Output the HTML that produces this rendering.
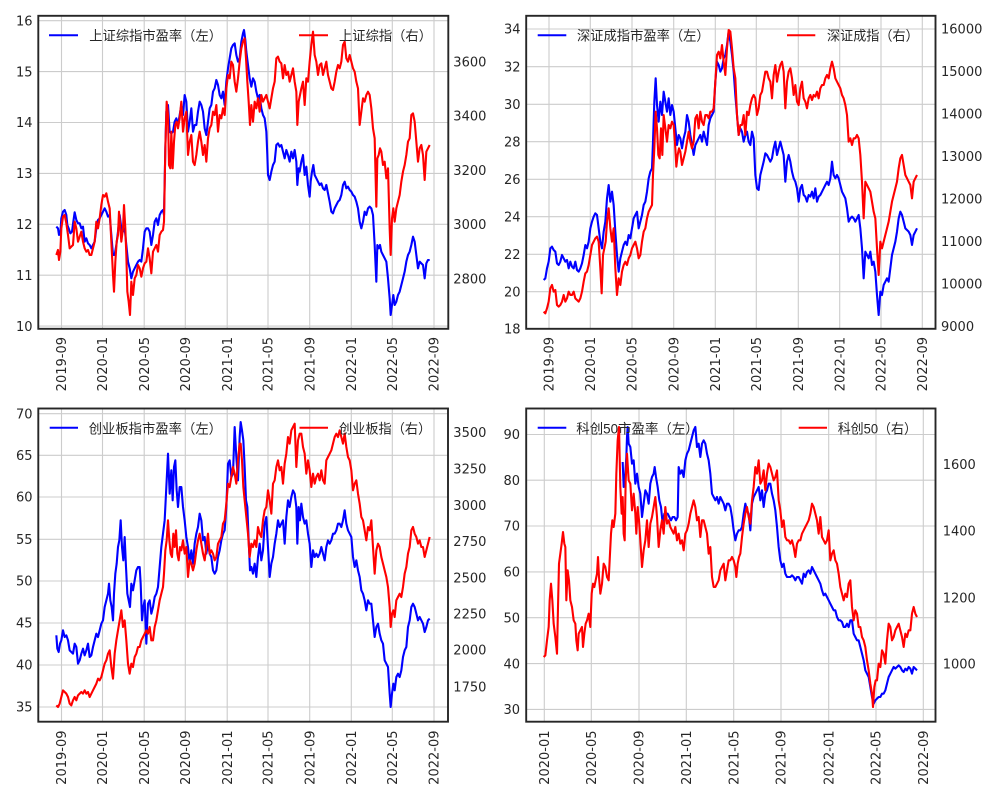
<!DOCTYPE html>
<html><head><meta charset="utf-8">
<style>
html,body{margin:0;padding:0;background:#fff;}
svg{display:block;}
.tk{font-family:"DejaVu Sans","Liberation Sans",sans-serif;font-size:13px;fill:#262626;}
.lg{font-family:"Liberation Sans","Noto Sans CJK SC",sans-serif;font-size:13.5px;fill:#262626;}
.grid line{stroke:#cccccc;stroke-width:1.1;}
.b{fill:none;stroke:#0000ff;stroke-width:2.1;stroke-linejoin:round;}
.r{fill:none;stroke:#ff0000;stroke-width:2.1;stroke-linejoin:round;}
.sp{fill:none;stroke:#262626;stroke-width:1.9;}
</style></head>
<body>
<svg width="1000" height="800" viewBox="0 0 1000 800" xmlns="http://www.w3.org/2000/svg">
<rect width="1000" height="800" fill="#fff"/>

<!-- ================= PANEL 1 ================= -->
<g class="grid">
<line x1="61.5" y1="15.8" x2="61.5" y2="328.8"/><line x1="102.5" y1="15.8" x2="102.5" y2="328.8"/><line x1="144.2" y1="15.8" x2="144.2" y2="328.8"/><line x1="185.3" y1="15.8" x2="185.3" y2="328.8"/><line x1="227.2" y1="15.8" x2="227.2" y2="328.8"/><line x1="268" y1="15.8" x2="268" y2="328.8"/><line x1="309.7" y1="15.8" x2="309.7" y2="328.8"/><line x1="351.3" y1="15.8" x2="351.3" y2="328.8"/><line x1="392.3" y1="15.8" x2="392.3" y2="328.8"/><line x1="434" y1="15.8" x2="434" y2="328.8"/>
<line x1="38.3" y1="20.7" x2="448.3" y2="20.7"/><line x1="38.3" y1="71.6" x2="448.3" y2="71.6"/><line x1="38.3" y1="122.5" x2="448.3" y2="122.5"/><line x1="38.3" y1="173.4" x2="448.3" y2="173.4"/><line x1="38.3" y1="224.3" x2="448.3" y2="224.3"/><line x1="38.3" y1="275.2" x2="448.3" y2="275.2"/><line x1="38.3" y1="326.1" x2="448.3" y2="326.1"/>
</g>
<g transform="translate(38,15) scale(0.333333)">
<polyline class="b" vector-effect="non-scaling-stroke" points="55,635 60,640 63,660 67,655 70,610 75,590 80,585 85,600 88,630 92,640 97,655 102,650 106,620 110,592 115,615 120,625 125,625 130,640 135,635 140,680 145,670 150,685 155,690 160,700 165,690 170,680 175,640 180,615 185,610 190,600 195,590 200,580 205,590 210,605 215,600 220,660 225,720 230,720 235,690 240,650 245,600 250,640 255,650 260,640 265,690 270,740 275,760 280,790 285,770 290,760 295,750 300,740 305,735 310,740 315,700 320,650 325,640 330,640 335,650 340,690 345,660 350,620 355,610 360,630 365,600 370,590 375,585 378,600 382,400 385,290 390,270 395,350 400,355 405,350 410,320 415,310 420,330 425,300 430,270 435,300 440,240 445,260 450,350 455,320 460,280 465,350 470,330 475,330 480,290 485,260 490,270 495,290 500,340 505,360 510,320 515,280 520,270 525,230 530,220 535,195 540,210 545,240 550,250 555,230 560,270 565,200 570,160 575,130 580,100 585,90 590,85 595,120 600,140 605,130 610,80 615,55 618,45 622,75 625,110 630,150 635,190 640,215 645,190 650,200 655,230 660,250 665,240 670,280 675,300 680,310 685,350 688,420 690,480 695,495 700,470 705,450 710,440 715,390 720,385 725,395 730,390 735,410 740,430 745,405 750,420 755,440 760,410 765,430 770,405 775,440 778,510 782,460 785,470 790,440 795,420 800,480 805,455 810,510 815,545 818,500 822,470 826,450 830,480 835,490 840,500 845,510 850,505 855,520 860,525 865,510 870,535 875,560 880,590 885,595 890,580 895,570 900,560 905,555 910,540 915,510 920,500 925,520 930,515 935,525 940,530 945,540 950,545 955,560 960,580 965,620 970,640 975,620 980,590 985,600 990,580 995,575 1000,580 1005,600 1010,690 1015,800 1018,690 1022,700 1026,690 1030,710 1035,720 1040,730 1045,740 1050,790 1055,850 1058,900 1062,870 1066,840 1070,870 1075,860 1080,840 1085,830 1090,810 1095,790 1100,770 1105,740 1110,720 1115,710 1120,690 1125,665 1130,680 1135,720 1140,760 1145,740 1150,745 1155,750 1160,790 1165,745 1170,735 1175,735"/>
</g>
<line x1="49" y1="35.2" x2="78" y2="35.2" stroke="#0000ff" stroke-width="2"/>
<text class="lg" x="89.3" y="40.5" textLength="132.7" lengthAdjust="spacingAndGlyphs">上证综指市盈率（左）</text>
<g transform="translate(38,15) scale(0.333333)">
<polyline class="r" vector-effect="non-scaling-stroke" points="55,720 60,705 63,735 67,710 70,640 75,605 80,600 85,625 90,660 95,700 100,695 105,690 110,620 115,640 120,680 125,665 130,650 135,680 140,700 145,710 150,705 155,720 160,720 165,700 170,680 175,620 180,640 185,610 190,570 195,540 200,545 205,535 210,560 215,580 220,680 225,780 228,830 232,740 236,680 240,660 243,590 247,640 250,680 255,640 258,570 262,640 265,720 268,830 272,860 276,900 280,800 285,840 290,790 295,780 300,750 305,760 310,785 315,760 320,745 325,740 330,700 335,730 340,775 345,710 350,700 355,690 360,710 365,660 370,650 375,645 378,620 382,400 386,260 390,300 393,450 397,460 400,350 404,460 408,380 412,330 416,320 420,340 425,310 430,260 435,350 440,310 445,290 450,420 455,380 460,360 465,440 470,450 475,420 480,380 485,350 490,380 495,420 500,390 505,440 510,370 515,340 520,330 525,290 530,300 535,270 540,350 545,300 550,310 555,280 560,300 565,220 570,180 575,190 580,140 585,150 590,200 595,230 600,190 605,140 610,100 615,80 620,70 624,130 628,200 632,260 636,330 640,270 645,320 650,260 655,280 660,250 665,290 670,240 675,260 680,250 685,240 690,260 695,280 700,250 705,220 710,200 715,130 720,125 725,140 730,145 735,190 740,150 745,180 750,170 755,200 760,180 765,160 770,200 775,230 778,330 782,260 786,240 790,220 795,200 800,270 805,190 810,200 815,140 820,90 825,50 830,120 835,140 840,180 845,150 850,145 855,180 860,160 865,140 870,180 875,200 880,220 885,225 890,200 895,170 900,150 905,160 910,140 915,90 920,80 925,130 930,140 935,120 940,140 945,160 950,170 955,200 960,220 965,330 970,290 975,250 980,260 985,240 990,230 995,240 1000,280 1005,340 1010,370 1015,575 1018,430 1022,420 1026,400 1030,410 1035,450 1040,440 1045,490 1050,460 1055,640 1058,720 1062,610 1066,580 1070,620 1075,580 1080,560 1085,540 1090,500 1095,470 1100,450 1105,420 1110,380 1115,370 1120,300 1125,295 1130,320 1135,380 1140,440 1145,400 1150,390 1155,420 1160,495 1165,410 1170,400 1175,390"/>
</g>
<line x1="299" y1="35.2" x2="328" y2="35.2" stroke="#ff0000" stroke-width="2"/>
<text class="lg" x="339" y="40.5" textLength="93" lengthAdjust="spacingAndGlyphs">上证综指（右）</text>
<rect class="sp" x="38.3" y="15.8" width="410" height="313"/>
<g class="tk" text-anchor="end">
<text x="32.5" y="25.4">16</text><text x="32.5" y="76.3">15</text><text x="32.5" y="127.2">14</text><text x="32.5" y="178.1">13</text><text x="32.5" y="229">12</text><text x="32.5" y="279.9">11</text><text x="32.5" y="330.8">10</text>
</g>
<g class="tk">
<text x="453.3" y="66.4">3600</text><text x="453.3" y="120.7">3400</text><text x="453.3" y="174.9">3200</text><text x="453.3" y="229.1">3000</text><text x="453.3" y="283.3">2800</text>
</g>
<g class="tk" text-anchor="end">
<text transform="translate(66.2,337) rotate(-90)">2019-09</text>
<text transform="translate(107.2,337) rotate(-90)">2020-01</text>
<text transform="translate(148.9,337) rotate(-90)">2020-05</text>
<text transform="translate(190,337) rotate(-90)">2020-09</text>
<text transform="translate(231.9,337) rotate(-90)">2021-01</text>
<text transform="translate(272.7,337) rotate(-90)">2021-05</text>
<text transform="translate(314.4,337) rotate(-90)">2021-09</text>
<text transform="translate(356,337) rotate(-90)">2022-01</text>
<text transform="translate(397,337) rotate(-90)">2022-05</text>
<text transform="translate(438.7,337) rotate(-90)">2022-09</text>
</g>

<!-- ================= PANEL 2 ================= -->
<g class="grid">
<line x1="549" y1="15.8" x2="549" y2="328.8"/><line x1="590.3" y1="15.8" x2="590.3" y2="328.8"/><line x1="632" y1="15.8" x2="632" y2="328.8"/><line x1="673.7" y1="15.8" x2="673.7" y2="328.8"/><line x1="715.3" y1="15.8" x2="715.3" y2="328.8"/><line x1="756.3" y1="15.8" x2="756.3" y2="328.8"/><line x1="798.3" y1="15.8" x2="798.3" y2="328.8"/><line x1="839.7" y1="15.8" x2="839.7" y2="328.8"/><line x1="881" y1="15.8" x2="881" y2="328.8"/><line x1="922.3" y1="15.8" x2="922.3" y2="328.8"/>
<line x1="526.2" y1="29" x2="935.5" y2="29"/><line x1="526.2" y1="66.7" x2="935.5" y2="66.7"/><line x1="526.2" y1="104.3" x2="935.5" y2="104.3"/><line x1="526.2" y1="141.7" x2="935.5" y2="141.7"/><line x1="526.2" y1="179.3" x2="935.5" y2="179.3"/><line x1="526.2" y1="216.7" x2="935.5" y2="216.7"/><line x1="526.2" y1="254.3" x2="935.5" y2="254.3"/><line x1="526.2" y1="291.7" x2="935.5" y2="291.7"/>
</g>
<g transform="translate(527,15) scale(0.333333)">
<polyline class="b" vector-effect="non-scaling-stroke" points="50,795 55,790 60,760 65,740 70,700 75,695 80,705 85,710 90,745 95,750 100,740 105,720 110,730 115,740 120,735 125,760 130,740 135,755 140,760 145,740 150,765 155,770 160,760 165,745 170,720 175,690 180,700 185,680 190,640 195,620 200,605 205,595 210,600 215,640 220,680 225,700 230,650 235,620 240,550 245,510 250,560 255,530 260,570 265,650 270,720 275,770 280,730 285,710 290,690 295,680 300,690 305,660 310,670 315,640 320,610 325,600 330,590 335,640 340,620 345,600 350,570 355,560 360,530 365,490 370,470 375,460 378,380 382,260 386,190 390,270 395,320 400,260 405,300 410,230 415,260 420,290 425,250 430,300 435,270 440,290 445,340 450,390 455,360 460,370 465,400 470,370 475,350 480,300 485,320 490,360 495,390 500,420 505,390 510,380 515,370 520,360 525,380 530,350 535,370 540,390 545,330 550,310 555,300 560,290 565,200 570,140 575,150 580,170 585,160 590,130 595,120 600,90 605,50 610,80 615,120 620,170 625,240 630,300 635,360 640,340 645,350 650,380 655,360 660,350 665,380 670,390 675,350 680,370 685,480 690,520 695,525 700,480 705,460 710,440 715,415 720,420 725,430 730,440 735,430 740,400 745,380 750,420 755,400 760,380 765,400 770,420 775,500 780,440 785,420 790,440 795,470 800,490 805,500 810,520 815,560 820,520 825,510 830,540 835,545 840,560 845,540 850,545 855,530 860,550 865,520 870,560 875,545 880,540 885,530 890,520 895,510 900,500 905,510 910,490 915,440 920,480 925,490 930,480 935,490 940,510 945,530 950,540 955,550 960,580 965,620 970,610 975,605 980,610 985,620 990,610 995,600 1000,640 1005,700 1010,790 1015,710 1020,720 1025,730 1030,710 1035,750 1040,740 1045,770 1050,840 1055,900 1060,830 1065,840 1070,810 1075,800 1080,790 1085,800 1090,760 1095,720 1100,700 1105,680 1110,650 1115,610 1120,590 1125,600 1130,620 1135,640 1140,645 1145,650 1150,660 1155,690 1160,660 1165,650 1170,640"/>
</g>
<line x1="537.7" y1="35.2" x2="566.3" y2="35.2" stroke="#0000ff" stroke-width="2"/>
<text class="lg" x="577" y="40.5" textLength="132.7" lengthAdjust="spacingAndGlyphs">深证成指市盈率（左）</text>
<g transform="translate(527,15) scale(0.333333)">
<polyline class="r" vector-effect="non-scaling-stroke" points="50,890 55,895 60,880 65,860 70,820 75,810 80,830 85,825 90,870 95,875 100,870 105,860 110,840 115,860 120,850 125,830 130,840 135,840 140,830 145,850 150,855 155,860 160,850 165,830 170,800 175,775 180,770 185,750 190,720 195,690 200,680 205,670 210,665 215,680 220,760 224,835 228,720 232,700 236,680 240,620 245,580 250,640 255,680 260,640 265,760 270,840 275,790 280,810 285,770 290,750 295,740 300,750 305,730 310,720 315,700 320,690 325,680 330,700 335,730 340,720 345,680 350,650 355,640 360,610 365,590 370,580 375,570 378,480 382,400 386,290 390,340 394,420 398,430 402,340 406,420 410,300 415,340 420,380 425,330 430,340 435,320 440,330 445,400 448,455 452,420 456,400 460,410 465,450 470,430 475,410 480,380 485,350 490,380 495,400 500,380 505,310 510,300 515,340 520,290 525,320 530,330 535,300 540,300 545,310 550,290 555,290 560,280 565,200 570,120 575,110 580,130 585,90 590,140 595,180 600,100 605,45 610,50 615,100 620,160 625,190 630,300 635,360 640,330 645,330 650,300 655,360 660,290 665,300 670,270 675,250 680,240 685,250 690,300 695,280 700,240 705,230 710,200 715,170 720,170 725,190 730,200 735,250 740,180 745,150 750,200 755,170 760,150 765,140 770,170 775,280 780,200 785,170 790,160 795,190 800,240 805,210 810,260 815,270 820,220 825,200 830,250 835,260 840,280 845,250 850,240 855,255 860,240 865,245 870,230 875,250 880,220 885,210 890,210 895,190 900,180 905,190 910,160 915,140 920,160 925,190 930,200 935,210 940,220 945,240 950,250 955,270 960,300 965,380 970,370 975,390 980,370 985,370 990,360 995,370 1000,420 1005,500 1010,610 1015,500 1020,510 1025,520 1030,530 1035,560 1040,590 1045,610 1050,700 1055,780 1060,680 1065,700 1070,680 1075,660 1080,640 1085,620 1090,590 1095,560 1100,540 1105,520 1110,500 1115,460 1120,430 1125,420 1130,450 1135,480 1140,490 1145,500 1150,510 1155,550 1160,500 1165,490 1170,480"/>
</g>
<line x1="787" y1="35.2" x2="815.3" y2="35.2" stroke="#ff0000" stroke-width="2"/>
<text class="lg" x="827" y="40.5" textLength="91.7" lengthAdjust="spacingAndGlyphs">深证成指（右）</text>
<rect class="sp" x="526.2" y="15.8" width="409.3" height="313"/>
<g class="tk" text-anchor="end">
<text x="520.5" y="33.7">34</text><text x="520.5" y="71.4">32</text><text x="520.5" y="109">30</text><text x="520.5" y="146.4">28</text><text x="520.5" y="184">26</text><text x="520.5" y="221.4">24</text><text x="520.5" y="259">22</text><text x="520.5" y="296.4">20</text><text x="520.5" y="333.7">18</text>
</g>
<g class="tk">
<text x="941" y="33.7">16000</text><text x="941" y="76.2">15000</text><text x="941" y="118.7">14000</text><text x="941" y="161.2">13000</text><text x="941" y="203.7">12000</text><text x="941" y="246.2">11000</text><text x="941" y="288.7">10000</text><text x="941" y="331.2">9000</text>
</g>
<g class="tk" text-anchor="end">
<text transform="translate(553.7,337) rotate(-90)">2019-09</text>
<text transform="translate(595,337) rotate(-90)">2020-01</text>
<text transform="translate(636.7,337) rotate(-90)">2020-05</text>
<text transform="translate(678.4,337) rotate(-90)">2020-09</text>
<text transform="translate(720,337) rotate(-90)">2021-01</text>
<text transform="translate(761,337) rotate(-90)">2021-05</text>
<text transform="translate(803,337) rotate(-90)">2021-09</text>
<text transform="translate(844.4,337) rotate(-90)">2022-01</text>
<text transform="translate(885.7,337) rotate(-90)">2022-05</text>
<text transform="translate(927,337) rotate(-90)">2022-09</text>
</g>

<!-- ================= PANEL 3 ================= -->
<g class="grid">
<line x1="61.5" y1="408.5" x2="61.5" y2="721.7"/><line x1="102.5" y1="408.5" x2="102.5" y2="721.7"/><line x1="144.2" y1="408.5" x2="144.2" y2="721.7"/><line x1="185.3" y1="408.5" x2="185.3" y2="721.7"/><line x1="227.2" y1="408.5" x2="227.2" y2="721.7"/><line x1="268" y1="408.5" x2="268" y2="721.7"/><line x1="309.7" y1="408.5" x2="309.7" y2="721.7"/><line x1="351.3" y1="408.5" x2="351.3" y2="721.7"/><line x1="392.3" y1="408.5" x2="392.3" y2="721.7"/><line x1="434" y1="408.5" x2="434" y2="721.7"/>
<line x1="38.3" y1="413.7" x2="448" y2="413.7"/><line x1="38.3" y1="455.3" x2="448" y2="455.3"/><line x1="38.3" y1="497" x2="448" y2="497"/><line x1="38.3" y1="539.3" x2="448" y2="539.3"/><line x1="38.3" y1="581" x2="448" y2="581"/><line x1="38.3" y1="623" x2="448" y2="623"/><line x1="38.3" y1="665" x2="448" y2="665"/><line x1="38.3" y1="707" x2="448" y2="707"/>
</g>
<g transform="translate(38,407) scale(0.333333)">
<polyline class="b" vector-effect="non-scaling-stroke" points="55,685 58,725 62,735 66,710 70,700 75,670 80,690 85,685 90,700 95,730 100,735 105,740 110,710 115,720 120,770 125,760 130,740 135,725 140,745 145,730 150,710 155,750 160,745 165,720 170,700 175,680 180,690 185,670 190,650 195,640 200,600 205,580 210,560 213,530 217,580 221,600 225,640 228,560 232,500 236,470 240,420 244,400 248,340 252,420 256,460 260,390 264,480 268,560 272,580 276,600 280,530 285,550 290,520 295,490 300,480 305,480 308,530 312,640 316,600 320,580 325,710 330,590 335,580 340,620 345,600 350,570 355,560 360,540 365,480 370,420 375,380 380,340 385,240 390,140 395,260 400,190 404,280 408,180 412,160 416,250 420,300 425,240 430,240 435,300 440,340 445,390 450,420 455,470 460,430 465,470 470,410 475,380 480,360 485,320 490,340 495,400 500,390 505,440 510,410 515,440 520,450 525,490 530,500 535,490 540,450 545,430 550,400 555,380 560,370 565,300 570,170 575,160 580,210 585,200 590,60 595,150 600,220 605,90 608,45 612,70 616,100 620,180 624,280 628,300 632,400 636,490 640,480 645,500 650,470 655,510 660,450 665,410 670,460 675,430 680,350 685,330 690,420 695,510 700,470 705,450 710,410 715,380 720,340 725,360 730,350 735,340 740,410 745,330 750,280 755,300 760,270 765,250 770,260 775,300 778,410 782,300 786,340 790,290 795,330 800,350 805,340 810,380 815,410 820,480 825,430 830,450 835,440 840,450 845,440 850,420 855,440 860,460 865,420 870,400 875,410 880,400 885,380 890,380 895,370 900,350 905,350 910,360 915,340 920,310 925,350 930,370 935,380 940,390 945,450 950,480 955,460 960,490 965,510 970,550 975,560 980,580 985,610 990,580 995,590 1000,590 1005,640 1010,690 1015,660 1020,650 1025,680 1030,700 1035,710 1040,760 1045,770 1050,780 1055,860 1058,900 1062,860 1066,830 1070,850 1075,810 1080,800 1085,810 1090,790 1095,750 1100,730 1105,720 1110,660 1115,640 1120,600 1125,590 1130,600 1135,620 1140,640 1145,630 1150,640 1155,650 1160,675 1165,660 1170,640 1175,635"/>
</g>
<line x1="49.7" y1="427.7" x2="78" y2="427.7" stroke="#0000ff" stroke-width="2"/>
<text class="lg" x="88.7" y="433.5" textLength="133.3" lengthAdjust="spacingAndGlyphs">创业板指市盈率（左）</text>
<g transform="translate(38,407) scale(0.333333)">
<polyline class="r" vector-effect="non-scaling-stroke" points="55,895 60,900 65,890 70,870 75,850 80,855 85,860 90,870 95,890 100,895 105,880 110,870 115,880 120,865 125,860 130,855 135,860 140,850 145,860 150,855 155,870 160,860 165,850 170,840 175,830 180,815 185,820 190,810 195,790 200,770 205,760 210,740 215,730 220,780 225,815 230,740 235,700 240,670 245,640 250,610 255,660 260,640 265,700 270,770 275,800 280,770 285,780 290,750 295,740 300,720 305,720 310,700 315,690 320,680 325,670 330,680 335,660 340,700 345,700 350,660 355,640 360,610 365,580 370,560 375,540 378,500 382,430 386,400 390,340 394,400 398,440 402,450 406,380 410,420 414,370 418,440 422,460 426,420 430,430 435,400 440,440 445,420 450,510 455,460 460,470 465,490 470,470 475,430 480,400 485,380 490,410 495,440 500,460 505,420 510,380 515,440 520,430 525,440 530,460 535,450 540,410 545,400 550,390 555,350 560,340 565,290 570,230 575,240 580,210 585,180 590,200 595,230 600,160 605,110 608,110 612,160 616,240 620,280 625,330 630,380 635,450 640,410 645,420 650,400 655,420 660,360 665,380 670,390 675,340 680,310 685,300 690,250 695,280 700,320 705,230 710,220 715,180 720,160 725,190 730,180 735,230 740,170 745,140 750,90 755,110 760,70 765,60 770,50 775,180 780,100 785,80 790,80 795,120 800,140 805,200 810,160 815,190 820,240 825,200 830,230 835,210 840,200 845,220 850,190 855,220 860,230 865,160 870,150 875,140 880,130 885,110 890,90 895,80 900,90 905,70 910,90 915,110 920,80 925,120 930,150 935,160 940,190 945,250 950,230 955,220 960,260 965,290 970,330 975,340 980,370 985,400 990,360 995,370 1000,340 1005,420 1010,500 1015,430 1020,410 1025,420 1030,450 1035,470 1040,490 1045,510 1050,540 1055,600 1058,660 1062,620 1066,610 1070,630 1075,580 1080,570 1085,560 1090,570 1095,540 1100,500 1105,480 1110,440 1115,420 1120,370 1125,360 1130,380 1135,390 1140,410 1145,400 1150,420 1155,420 1160,450 1165,430 1170,410 1175,390"/>
</g>
<line x1="299.5" y1="427.7" x2="328" y2="427.7" stroke="#ff0000" stroke-width="2"/>
<text class="lg" x="339" y="433.5" textLength="92.3" lengthAdjust="spacingAndGlyphs">创业板指（右）</text>
<rect class="sp" x="38.3" y="408.5" width="409.7" height="313.2"/>
<g class="tk" text-anchor="end">
<text x="32.5" y="418.4">70</text><text x="32.5" y="460">65</text><text x="32.5" y="501.7">60</text><text x="32.5" y="544">55</text><text x="32.5" y="585.7">50</text><text x="32.5" y="627.7">45</text><text x="32.5" y="669.7">40</text><text x="32.5" y="711.7">35</text>
</g>
<g class="tk">
<text x="453.3" y="437">3500</text><text x="453.3" y="473.7">3250</text><text x="453.3" y="510">3000</text><text x="453.3" y="546">2750</text><text x="453.3" y="582.7">2500</text><text x="453.3" y="618.7">2250</text><text x="453.3" y="654.7">2000</text><text x="453.3" y="691.4">1750</text>
</g>
<g class="tk" text-anchor="end">
<text transform="translate(66.2,730.5) rotate(-90)">2019-09</text>
<text transform="translate(107.2,730.5) rotate(-90)">2020-01</text>
<text transform="translate(148.9,730.5) rotate(-90)">2020-05</text>
<text transform="translate(190,730.5) rotate(-90)">2020-09</text>
<text transform="translate(231.9,730.5) rotate(-90)">2021-01</text>
<text transform="translate(272.7,730.5) rotate(-90)">2021-05</text>
<text transform="translate(314.4,730.5) rotate(-90)">2021-09</text>
<text transform="translate(356,730.5) rotate(-90)">2022-01</text>
<text transform="translate(397,730.5) rotate(-90)">2022-05</text>
<text transform="translate(438.7,730.5) rotate(-90)">2022-09</text>
</g>

<!-- ================= PANEL 4 ================= -->
<g class="grid">
<line x1="544.3" y1="408.5" x2="544.3" y2="721.7"/><line x1="591.3" y1="408.5" x2="591.3" y2="721.7"/><line x1="639" y1="408.5" x2="639" y2="721.7"/><line x1="686.3" y1="408.5" x2="686.3" y2="721.7"/><line x1="733.7" y1="408.5" x2="733.7" y2="721.7"/><line x1="781" y1="408.5" x2="781" y2="721.7"/><line x1="828.7" y1="408.5" x2="828.7" y2="721.7"/><line x1="876" y1="408.5" x2="876" y2="721.7"/><line x1="923.3" y1="408.5" x2="923.3" y2="721.7"/>
<line x1="526.2" y1="434.5" x2="935.5" y2="434.5"/><line x1="526.2" y1="480.2" x2="935.5" y2="480.2"/><line x1="526.2" y1="526" x2="935.5" y2="526"/><line x1="526.2" y1="571.9" x2="935.5" y2="571.9"/><line x1="526.2" y1="617.7" x2="935.5" y2="617.7"/><line x1="526.2" y1="663.6" x2="935.5" y2="663.6"/><line x1="526.2" y1="709.4" x2="935.5" y2="709.4"/>
</g>
<g transform="translate(527,407) scale(0.333333)">
<polyline class="b" vector-effect="non-scaling-stroke" points="287,165 290,240 295,200 298,150 300,90 302,60 305,110 310,120 315,170 320,160 325,230 330,200 335,240 340,260 345,330 350,290 355,250 360,260 365,290 370,230 375,210 380,200 383,180 387,210 392,240 397,280 402,300 407,350 412,320 417,320 422,320 427,330 432,340 437,330 442,330 447,340 452,330 455,180 460,200 465,190 470,210 475,160 480,140 485,130 490,110 495,90 500,70 505,60 510,120 515,110 520,150 525,110 530,100 535,110 540,140 545,160 550,200 555,260 560,270 565,280 570,270 575,290 580,270 585,280 590,290 595,310 600,290 605,290 610,300 615,330 620,370 625,400 630,380 635,370 640,370 645,360 650,320 655,290 660,310 665,320 670,370 675,290 680,270 685,260 690,250 695,240 700,280 705,250 710,300 715,260 720,250 725,230 730,230 735,260 740,280 745,310 750,360 755,420 760,460 765,480 770,470 775,500 780,510 785,510 790,510 795,505 800,510 805,520 810,510 815,510 820,520 825,530 830,500 835,510 840,495 845,490 850,500 855,480 860,490 865,500 870,510 875,520 880,530 885,550 890,565 895,560 900,570 905,580 910,590 915,600 920,610 925,610 930,630 935,640 940,640 945,645 950,660 955,660 960,650 965,660 970,640 975,640 980,680 985,690 990,700 995,700 1000,720 1005,740 1010,760 1015,790 1020,800 1025,810 1030,840 1035,870 1040,890 1045,880 1050,875 1055,870 1060,870 1065,860 1070,860 1075,850 1080,830 1085,810 1090,800 1095,790 1100,780 1105,785 1110,780 1115,775 1120,780 1125,790 1130,795 1135,785 1140,790 1145,780 1150,785 1155,800 1160,780 1165,785 1170,790"/>
</g>
<line x1="537.7" y1="427.7" x2="566.3" y2="427.7" stroke="#0000ff" stroke-width="2"/>
<text class="lg" x="576.3" y="433.5" textLength="122.4" lengthAdjust="spacingAndGlyphs">科创50市盈率（左）</text>
<g transform="translate(527,407) scale(0.333333)">
<polyline class="r" vector-effect="non-scaling-stroke" points="50,750 55,745 60,700 65,660 68,580 72,530 76,580 80,650 85,690 90,740 93,600 96,470 100,440 104,410 108,375 112,410 115,420 118,580 122,490 126,520 130,580 135,600 140,640 145,650 148,700 152,730 155,680 160,670 165,660 168,720 172,680 176,650 180,640 185,620 190,660 194,560 198,530 202,540 206,520 210,500 213,450 216,510 220,560 225,530 230,470 235,480 240,510 245,520 248,460 252,380 256,340 260,360 265,320 268,200 272,100 276,60 280,240 284,320 287,270 290,380 293,400 296,220 300,140 305,220 310,230 315,310 320,260 325,320 328,380 332,300 336,340 340,400 345,480 350,430 355,400 360,340 365,420 370,350 375,330 380,300 385,270 390,330 395,420 400,370 405,340 410,380 415,300 420,350 425,340 430,360 435,370 440,380 445,360 450,400 455,380 460,410 465,400 470,430 475,380 480,370 485,350 490,320 495,300 500,280 505,300 510,340 515,330 520,390 525,340 530,340 535,360 540,380 545,440 550,420 555,510 560,540 565,540 570,530 575,520 580,490 585,480 590,470 595,520 600,490 605,460 610,460 615,450 620,460 625,480 628,510 632,470 636,450 640,440 645,390 650,350 655,320 660,300 665,330 670,350 675,280 680,240 685,180 690,200 695,160 700,230 705,220 710,190 715,250 720,200 725,170 730,180 735,200 740,220 745,210 750,190 755,280 760,310 765,360 770,340 775,390 780,400 785,400 790,410 795,400 800,420 805,450 810,410 815,400 820,400 825,380 830,370 835,360 840,350 845,340 850,320 855,290 860,300 865,320 870,340 875,380 880,330 885,390 890,400 895,410 900,400 905,370 910,460 915,440 920,430 925,460 930,470 935,500 940,540 945,560 950,580 955,560 960,570 965,530 970,520 975,600 980,640 985,610 990,620 995,660 1000,660 1005,690 1010,700 1015,720 1020,760 1025,790 1030,830 1035,860 1038,900 1042,840 1046,820 1050,820 1055,770 1060,780 1065,730 1070,740 1075,770 1080,700 1085,650 1090,660 1095,700 1100,690 1105,670 1110,660 1115,650 1120,670 1125,690 1130,720 1135,680 1140,690 1145,670 1150,670 1155,620 1160,600 1165,620 1170,630"/>
</g>
<line x1="798.7" y1="427.7" x2="827" y2="427.7" stroke="#ff0000" stroke-width="2"/>
<text class="lg" x="837.7" y="433.5" textLength="79.3" lengthAdjust="spacingAndGlyphs">科创50（右）</text>
<rect class="sp" x="526.2" y="408.5" width="409.3" height="313.2"/>
<g class="tk" text-anchor="end">
<text x="520" y="439.2">90</text><text x="520" y="484.9">80</text><text x="520" y="530.7">70</text><text x="520" y="576.6">60</text><text x="520" y="622.4">50</text><text x="520" y="668.3">40</text><text x="520" y="714.1">30</text>
</g>
<g class="tk">
<text x="942.7" y="469">1600</text><text x="942.7" y="535.7">1400</text><text x="942.7" y="602.4">1200</text><text x="942.7" y="668.7">1000</text>
</g>
<g class="tk" text-anchor="end">
<text transform="translate(549,730.5) rotate(-90)">2020-01</text>
<text transform="translate(596,730.5) rotate(-90)">2020-05</text>
<text transform="translate(643.7,730.5) rotate(-90)">2020-09</text>
<text transform="translate(691,730.5) rotate(-90)">2021-01</text>
<text transform="translate(738.4,730.5) rotate(-90)">2021-05</text>
<text transform="translate(785.7,730.5) rotate(-90)">2021-09</text>
<text transform="translate(833.4,730.5) rotate(-90)">2022-01</text>
<text transform="translate(880.7,730.5) rotate(-90)">2022-05</text>
<text transform="translate(928,730.5) rotate(-90)">2022-09</text>
</g>
</svg>
</body></html>
